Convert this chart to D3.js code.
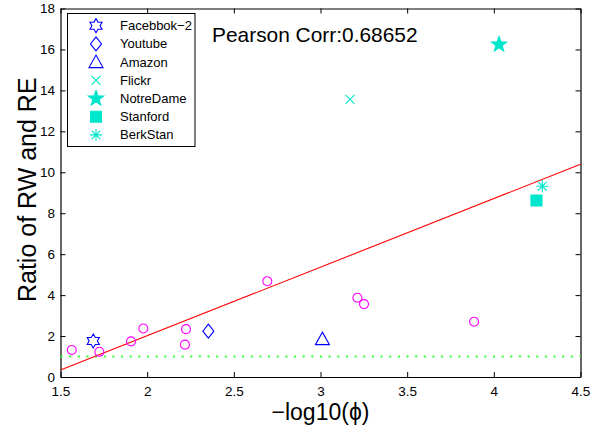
<!DOCTYPE html>
<html>
<head>
<meta charset="utf-8">
<script src="https://cdn.jsdelivr.net/npm/d3@7"></script>
<style>
  html, body { margin: 0; padding: 0; background: #fff; }
  svg text { font-family: "Liberation Sans", Arial, Helvetica, sans-serif; }
</style>
</head>
<body>
<svg id="chart" width="592" height="432"></svg>
<script>
// Other networks (plotted as plain circles)
const otherX = [1.565, 1.724, 1.907, 1.978, 2.224, 2.218, 2.693, 3.213, 3.251, 3.886];
const otherY = [1.32, 1.23, 1.74, 2.37, 2.34, 1.58, 4.68, 3.87, 3.56, 2.70];

// Named networks shown in the legend
const namedLabels = ["Facebbok\u22122", "Youtube", "Amazon", "Flickr", "NotreDame", "Stanford", "BerkStan"];
const namedX = [1.689, 2.353, 3.011, 3.170, 4.030, 4.246, 4.280];
const namedY = [1.76, 2.24, 1.85, 13.56, 16.24, 8.62, 9.32];
const namedMarkers = ["hexagram", "diamond", "triangle", "x", "pentagram", "square", "asterisk"];

// Least-squares fit and reference level
const fitSlope = 3.35;
const fitIntercept = -4.685;
const baselineLevel = 1;
const pearson = "0.68652";

const xTicks = [1.5, 2, 2.5, 3, 3.5, 4, 4.5];
const yTicks = [0, 2, 4, 6, 8, 10, 12, 14, 16, 18];

const blue = "#0000ff", magenta = "#ff00ff", teal = "rgb(0,230,204)";
const markerColors = [blue, blue, blue, teal, teal, teal, teal];
const markerFilled = [false, false, false, false, true, true, false];

const svg = d3.select("#chart");
const plotLeft = 60.5, plotRight = 580.5, plotTop = 8.5, plotBottom = 377;

const x = d3.scaleLinear().domain([1.5, 4.5]).range([plotLeft, plotRight]);
const y = d3.scaleLinear().domain([0, 18]).range([plotBottom, plotTop]);

// Marker path generator
function markerPath(kind) {
  const p = d3.path();
  const star = (n, ro, ri, rot) => {
    for (let i = 0; i < 2 * n; i++) {
      const r = i % 2 === 0 ? ro : ri;
      const a = rot + i * Math.PI / n;
      const px = r * Math.sin(a), py = -r * Math.cos(a);
      if (i === 0) p.moveTo(px, py); else p.lineTo(px, py);
    }
    p.closePath();
  };
  switch (kind) {
    case "circle": p.arc(0, 0, 4.5, 0, 2 * Math.PI); break;
    case "hexagram": star(6, 7, 4.1, 0); break;
    case "diamond": p.moveTo(0, -7); p.lineTo(5.5, 0); p.lineTo(0, 7); p.lineTo(-5.5, 0); p.closePath(); break;
    case "triangle": p.moveTo(0, -7); p.lineTo(7, 5.5); p.lineTo(-7, 5.5); p.closePath(); break;
    case "x": p.moveTo(-4.5, -4.5); p.lineTo(4.5, 4.5); p.moveTo(4.5, -4.5); p.lineTo(-4.5, 4.5); break;
    case "pentagram": star(5, 8, 3.3, 0); break;
    case "square": p.rect(-5.5, -5.5, 11, 11); break;
    case "asterisk":
      p.moveTo(-6, 0); p.lineTo(6, 0); p.moveTo(0, -6); p.lineTo(0, 6);
      p.moveTo(-4.3, -4.3); p.lineTo(4.3, 4.3); p.moveTo(4.3, -4.3); p.lineTo(-4.3, 4.3); break;
  }
  return p.toString();
}

// Axes with inward ticks on all four sides
const tickFont = g => g.selectAll("text")
  .attr("font-size", "13.5px").attr("fill", "#000")
  .attr("font-family", "Liberation Sans, Arial, sans-serif");
svg.append("g").attr("transform", `translate(0,${plotBottom})`)
  .call(d3.axisBottom(x).tickValues(xTicks).tickFormat(d3.format("")).tickSizeInner(-5).tickSizeOuter(0).tickPadding(9.5))
  .call(tickFont);
svg.append("g").attr("transform", `translate(0,${plotTop})`)
  .call(d3.axisTop(x).tickValues(xTicks).tickFormat("").tickSizeInner(-5).tickSizeOuter(0));
svg.append("g").attr("transform", `translate(${plotLeft},0)`)
  .call(d3.axisLeft(y).tickValues(yTicks).tickFormat(d3.format("")).tickSizeInner(-5).tickSizeOuter(0).tickPadding(5.5))
  .call(tickFont);
svg.append("g").attr("transform", `translate(${plotRight},0)`)
  .call(d3.axisRight(y).tickValues(yTicks).tickFormat("").tickSizeInner(-5).tickSizeOuter(0));
svg.selectAll(".domain").attr("stroke", "#000").attr("stroke-width", 1.2);
svg.selectAll(".tick line").attr("stroke", "#000");

// Reference level y = 1
svg.append("line")
  .attr("x1", x(1.5)).attr("x2", x(4.5))
  .attr("y1", y(baselineLevel)).attr("y2", y(baselineLevel))
  .attr("stroke", "#33ff33").attr("stroke-width", 2).attr("stroke-dasharray", "2,6.65");

// Regression line
svg.append("line")
  .attr("x1", x(1.5)).attr("y1", y(fitSlope * 1.5 + fitIntercept))
  .attr("x2", x(4.5)).attr("y2", y(fitSlope * 4.5 + fitIntercept))
  .attr("stroke", "#ff0000").attr("stroke-width", 1.1);

// Plain circles
svg.append("g").selectAll("path")
  .data(otherX.map((v, i) => [v, otherY[i]]))
  .join("path")
  .attr("transform", d => `translate(${x(d[0])},${y(d[1])})`)
  .attr("d", markerPath("circle"))
  .attr("fill", "none").attr("stroke", magenta).attr("stroke-width", 1.1);

// Named networks
const styleMarker = sel => sel
  .attr("d", (d, i) => markerPath(namedMarkers[i]))
  .attr("fill", (d, i) => markerFilled[i] ? markerColors[i] : "none")
  .attr("stroke", (d, i) => markerColors[i])
  .attr("stroke-width", 1.1);

svg.append("g").selectAll("path")
  .data(namedX.map((v, i) => [v, namedY[i]]))
  .join("path")
  .attr("transform", d => `translate(${x(d[0])},${y(d[1])})`)
  .call(styleMarker);

// Correlation annotation
svg.append("text").attr("x", 212).attr("y", 41.5)
  .attr("font-size", "20.9px").attr("fill", "#000")
  .text("Pearson Corr:" + pearson);

// Legend
const legend = svg.append("g");
legend.append("rect").attr("x", 67.5).attr("y", 13.5).attr("width", 127.5).attr("height", 133)
  .attr("fill", "#fff").attr("stroke", "#000").attr("stroke-width", 1);
const rows = legend.selectAll("g.row").data(namedLabels).join("g")
  .attr("class", "row")
  .attr("transform", (d, i) => `translate(0,${25.7 + i * 18.2})`);
rows.append("path").attr("transform", "translate(96,0)").call(styleMarker);
rows.append("text").attr("x", 120).attr("y", 0).attr("dy", "0.35em")
  .attr("font-size", "13px").attr("fill", "#000").text(d => d);

// Axis titles
svg.append("text").attr("x", (plotLeft + plotRight) / 2).attr("y", 420)
  .attr("text-anchor", "middle").attr("font-size", "23px").attr("fill", "#000")
  .text("\u2212log10(\u03d5)");
svg.append("text")
  .attr("transform", `translate(36,${(plotTop + plotBottom) / 2 - 3}) rotate(-90)`)
  .attr("text-anchor", "middle").attr("font-size", "25px").attr("fill", "#000")
  .text("Ratio of RW and RE");
</script>
</body>
</html>
